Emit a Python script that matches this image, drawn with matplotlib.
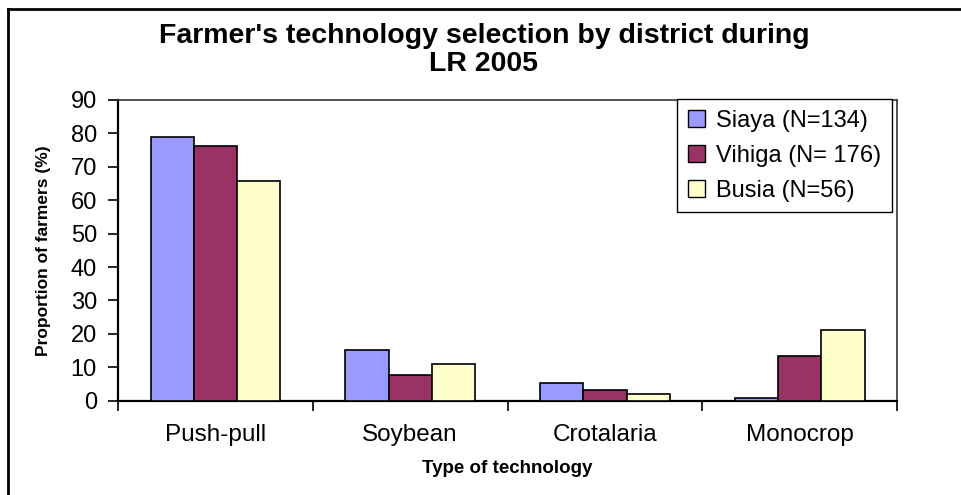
import numpy as np
import matplotlib.pyplot as plt
from matplotlib.lines import Line2D

plt.rcParams['font.family'] = ['Liberation Sans', 'DejaVu Sans']

categories = ['Push-pull', 'Soybean', 'Crotalaria', 'Monocrop']
series_names = ['Siaya (N=134)', 'Vihiga (N= 176)', 'Busia (N=56)']
siaya = [79.0, 15.2, 5.3, 0.9]
vihiga = [76.2, 7.6, 3.3, 13.3]
busia = [65.9, 11.0, 2.0, 21.3]
colors = ['#9999FF', '#993366', '#FFFFCC']
yticks = list(range(0, 91, 10))

fig = plt.figure(figsize=(9.62, 4.95), dpi=100)
ax = fig.add_axes([0.1227, 0.1905, 0.8098, 0.6075])

x = np.arange(len(categories))
w = 0.2222
for i, (vals, name, c) in enumerate(zip([siaya, vihiga, busia], series_names, colors)):
    ax.bar(x + (i - 1) * w, vals, width=w, color=c, edgecolor='black',
           linewidth=1.2, label=name, zorder=3)

ax.set_xlim(-0.5, len(categories) - 0.5)
ax.set_ylim(0, 90)
ax.set_yticks(yticks)
ax.tick_params(axis='y', direction='out', length=7.2, width=1.2, labelsize=17, pad=8)
ax.set_xticks(x)
ax.set_xticklabels(categories, fontsize=17.5)
ax.tick_params(axis='x', length=0, pad=17)
# category boundary ticks
ax.set_xticks(np.arange(len(categories) + 1) - 0.5, minor=True)
ax.tick_params(axis='x', which='minor', direction='out', length=7.2, width=1.2)

for s in ['left', 'bottom']:
    ax.spines[s].set_linewidth(1.6)
for s in ['top', 'right']:
    ax.spines[s].set_linewidth(1.2)
    ax.spines[s].set_color('#333333')

ax.set_ylabel('Proportion of farmers (%)', fontsize=12.5, fontweight='bold', labelpad=14)
ax.set_xlabel('Type of technology', fontsize=13.5, fontweight='bold', labelpad=10)

fig.suptitle("Farmer's technology selection by district during\nLR 2005",
             x=0.503, y=0.953, fontsize=20.5, fontweight='bold', linespacing=1.1)

leg = ax.legend(loc='upper right', bbox_to_anchor=(0.9936, 1.003), fontsize=17,
                frameon=True, fancybox=False, edgecolor='black', framealpha=1,
                handlelength=0.7, handleheight=0.7, handletextpad=0.5,
                labelspacing=0.55, borderpad=0.45, borderaxespad=0)
leg.get_frame().set_linewidth(1.0)
for h in leg.legend_handles:
    h.set_linewidth(1.0)

# outer chart border (top and left visible)
fig.add_artist(Line2D([8 / 962, 1.0], [1 - 9 / 495, 1 - 9 / 495],
                      transform=fig.transFigure, color='black', linewidth=2))
fig.add_artist(Line2D([8 / 962, 8 / 962], [0.0, 1 - 9 / 495],
                      transform=fig.transFigure, color='black', linewidth=2))

fig.savefig('out.png', dpi=100)
